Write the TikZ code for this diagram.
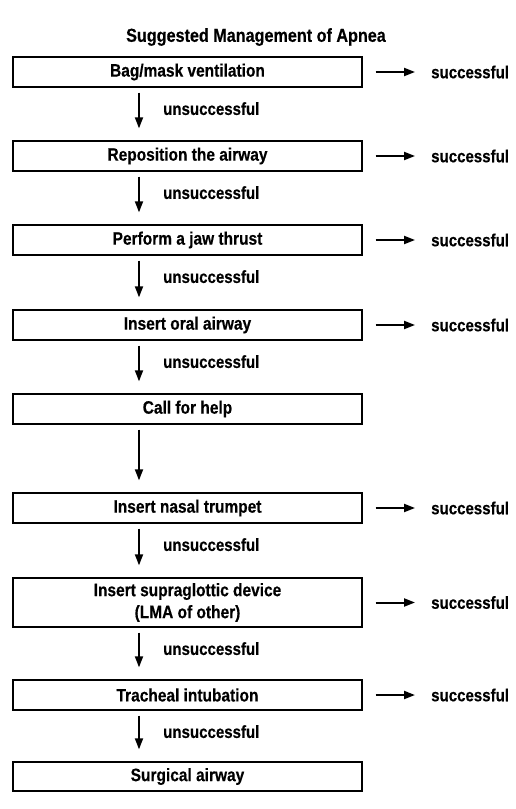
\documentclass[tikz,border=0pt]{standalone}
\usepackage{fontspec}
\usetikzlibrary{arrows.meta}
\newfontfamily\condfont[FakeStretch=0.86, BoldFeatures={FakeBold=0.4}]{Liberation Sans}
\begin{document}
\begin{tikzpicture}[x=1pt,y=-1pt,
  stepbox/.style={draw, line width=1.3pt, minimum width=349pt, minimum height=30pt,
    inner sep=0pt, align=center, font=\condfont\bfseries\fontsize{18}{21}\selectfont},
  lbl/.style={anchor=west, inner sep=0pt, font=\condfont\bfseries\fontsize{17.5}{20}\selectfont},
  ttl/.style={inner sep=0pt, font=\condfont\bfseries\fontsize{18.8}{22}\selectfont},
  arr/.style={line width=1.8pt, -{Triangle[length=11pt,width=8pt]}},
  downarr/.style={arr, shorten <=5pt, shorten >=12pt},
  rightarr/.style={arr, line width=2pt, shorten <=13pt, shorten >=16pt}]
\useasboundingbox (0,0) rectangle (515,809);
\coordinate (ax) at (139,0);
\node[ttl] (title) at (256,37) {Suggested Management of Apnea};
\node[stepbox] (b1) at (187.5,72) {Bag/mask ventilation};
\node[stepbox] (b2) at (187.5,156) {Reposition the airway};
\node[stepbox] (b3) at (187.5,240) {Perform a jaw thrust};
\node[stepbox] (b4) at (187.5,325) {Insert oral airway};
\node[stepbox] (b5) at (187.5,409) {Call for help};
\node[stepbox] (b6) at (187.5,508) {Insert nasal trumpet};
\node[stepbox, minimum height=49pt] (b7) at (187.5,602.5) {Insert supraglottic device\\[1pt](LMA of other)};
\node[stepbox] (b8) at (187.5,695) {Tracheal intubation};
\node[stepbox, minimum height=29pt] (b9) at (187.5,776.5) {Surgical airway};
% successful labels
\foreach \i in {1,2,3,4,6,7,8}{
  \node[lbl] (s\i) at (b\i.east -| 431,0) {successful};
  \draw[rightarr] (b\i.east) -- (s\i.west);
}
% down arrows
\foreach \i/\j in {1/2,2/3,3/4,4/5,5/6,6/7,7/8,8/9}{
  \draw[downarr] (b\i.south -| ax) -- (b\j.north -| ax);
}
% unsuccessful labels
\foreach \i in {1,2,3,4,6,7,8}{
  \node[lbl] (u\i) at ([yshift=-21pt]b\i.south -| 163,0) {unsuccessful};
}
\end{tikzpicture}
\end{document}
